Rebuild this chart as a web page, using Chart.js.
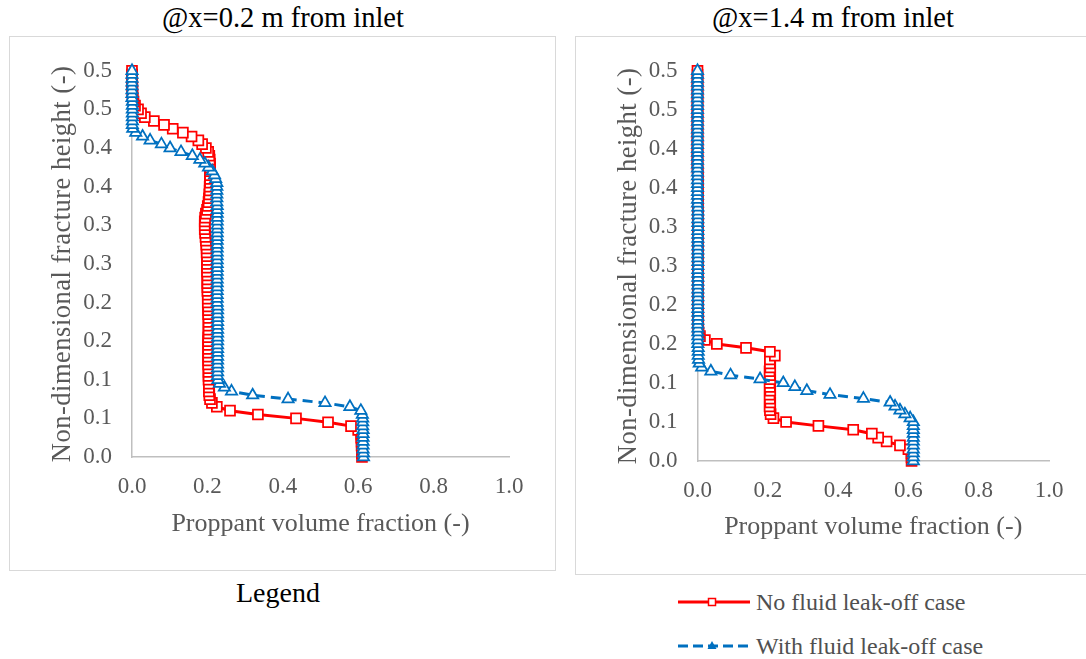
<!DOCTYPE html>
<html>
<head>
<meta charset="utf-8">
<script src="https://cdn.jsdelivr.net/npm/chart.js@4.4.1/dist/chart.umd.min.js"></script>
<style>
    body { margin: 0; width: 1086px; height: 659px; overflow: hidden; background: #fff; position: relative; font-family: 'Liberation Serif', 'Times New Roman', serif; }
    .title { position: absolute; top: 0px; height: 36px; line-height: 36px; font-size: 28.5px; color: #000; text-align: center; white-space: nowrap; }
    .box { position: absolute; border: 1.5px solid #d9d9d9; box-sizing: border-box; }
    canvas { position: absolute; }
    .legend-head { position: absolute; left: 178px; width: 200px; top: 575px; height: 36px; line-height: 36px; text-align: center; font-size: 28px; color: #000; }
    .legend-item { position: absolute; left: 676px; height: 30px; display: flex; align-items: center; }
    .legend-item span { font-size: 24px; color: #505050; margin-left: 4px; white-space: nowrap; }
</style>
</head>
<body>
<div class="title" style="left: 83px; width: 400px;">@x=0.2 m from inlet</div>
<div class="title" style="left: 633px; width: 400px;">@x=1.4 m from inlet</div>

<div class="box" style="left: 9px; top: 36px; width: 547px; height: 535px;"></div>
<div class="box" style="left: 575px; top: 36px; width: 520px; height: 539px;"></div>

<canvas id="chartLeft" width="545" height="533" style="left: 10px; top: 37px;"></canvas>
<canvas id="chartRight" width="514" height="536" style="left: 576px; top: 37px;"></canvas>

<div class="legend-head">Legend</div>
<div class="legend-item" style="top: 587px;">
    <svg width="76" height="30">
        <line x1="2" y1="15" x2="74" y2="15" stroke="#FF0000" stroke-width="3"/>
        <rect x="32.5" y="11.5" width="7" height="7" fill="#fff" stroke="#FF0000" stroke-width="1.5"/>
    </svg>
    <span id="legendRed"></span>
</div>
<div class="legend-item" style="top: 631px;">
    <svg width="76" height="30">
        <line x1="2" y1="15" x2="74" y2="15" stroke="#0070C0" stroke-width="3" stroke-dasharray="10 5"/>
        <polygon points="36,10 40.5,18 31.5,18" fill="#0070C0"/>
    </svg>
    <span id="legendBlue"></span>
</div>

<script>
// shared non-dimensional heights (y), one per CFD cell
const heights = [
    0.000, 0.005, 0.010, 0.015, 0.020, 0.025, 0.030, 0.035, 0.040, 0.045,
    0.050, 0.055, 0.060, 0.065, 0.070, 0.075, 0.080, 0.085, 0.090, 0.095,
    0.100, 0.105, 0.110, 0.115, 0.120, 0.125, 0.130, 0.135, 0.140, 0.145,
    0.150, 0.155, 0.160, 0.165, 0.170, 0.175, 0.180, 0.185, 0.190, 0.195,
    0.200, 0.205, 0.210, 0.215, 0.220, 0.225, 0.230, 0.235, 0.240, 0.245,
    0.250, 0.255, 0.260, 0.265, 0.270, 0.275, 0.280, 0.285, 0.290, 0.295,
    0.300, 0.305, 0.310, 0.315, 0.320, 0.325, 0.330, 0.335, 0.340, 0.345,
    0.350, 0.355, 0.360, 0.365, 0.370, 0.375, 0.380, 0.385, 0.390, 0.395,
    0.400, 0.405, 0.410, 0.415, 0.420, 0.425, 0.430, 0.435, 0.440, 0.445,
    0.450, 0.455, 0.460, 0.465, 0.470, 0.475, 0.480, 0.485, 0.490, 0.495,
    0.500
];

// proppant volume fraction @x=0.2 m
const noLeakOff02 = [
    0.610, 0.610, 0.610, 0.609, 0.609, 0.608, 0.608, 0.600, 0.581, 0.520,
    0.435, 0.334, 0.260, 0.225, 0.212, 0.207, 0.205, 0.204, 0.204, 0.204,
    0.203, 0.203, 0.203, 0.203, 0.202, 0.202, 0.202, 0.202, 0.202, 0.202,
    0.202, 0.202, 0.203, 0.203, 0.203, 0.203, 0.203, 0.202, 0.202, 0.202,
    0.201, 0.201, 0.201, 0.200, 0.200, 0.200, 0.200, 0.200, 0.199, 0.199,
    0.199, 0.199, 0.199, 0.198, 0.198, 0.197, 0.196, 0.195, 0.194, 0.193,
    0.193, 0.193, 0.194, 0.196, 0.199, 0.201, 0.203, 0.204, 0.205, 0.206,
    0.206, 0.207, 0.207, 0.207, 0.207, 0.207, 0.207, 0.206, 0.205, 0.202,
    0.196, 0.186, 0.176, 0.158, 0.135, 0.108, 0.085, 0.058, 0.034, 0.024,
    0.016, 0.008, 0.004, 0.002, 0.001, 0.001, 0.001, 0.000, 0.000, 0.000,
    0.000
];
const withLeakOff02 = [
    0.614, 0.614, 0.613, 0.613, 0.613, 0.613, 0.613, 0.613, 0.612, 0.612,
    0.612, 0.611, 0.607, 0.578, 0.512, 0.414, 0.320, 0.264, 0.245, 0.232,
    0.228, 0.227, 0.227, 0.227, 0.227, 0.227, 0.227, 0.227, 0.227, 0.227,
    0.227, 0.227, 0.227, 0.227, 0.227, 0.227, 0.227, 0.227, 0.227, 0.227,
    0.226, 0.226, 0.226, 0.226, 0.226, 0.226, 0.226, 0.226, 0.226, 0.226,
    0.226, 0.226, 0.226, 0.226, 0.226, 0.226, 0.226, 0.226, 0.226, 0.226,
    0.226, 0.226, 0.226, 0.226, 0.226, 0.226, 0.225, 0.225, 0.225, 0.225,
    0.225, 0.225, 0.222, 0.219, 0.213, 0.203, 0.193, 0.180, 0.160, 0.130,
    0.101, 0.078, 0.048, 0.028, 0.010, 0.002, 0.001, 0.001, 0.001, 0.001,
    0.001, 0.001, 0.001, 0.000, 0.000, 0.000, 0.000, 0.000, 0.000, 0.000,
    0.000
];

// proppant volume fraction @x=1.4 m
const noLeakOff14 = [
    0.609, 0.609, 0.609, 0.600, 0.576, 0.538, 0.514, 0.496, 0.443, 0.344,
    0.252, 0.216, 0.208, 0.206, 0.205, 0.207, 0.206, 0.205, 0.207, 0.206,
    0.205, 0.207, 0.206, 0.205, 0.207, 0.206, 0.206, 0.220, 0.206, 0.138,
    0.055, 0.021, 0.007, 0.003, 0.002, 0.002, 0.002, 0.002, 0.002, 0.001,
    0.001, 0.001, 0.001, 0.001, 0.001, 0.001, 0.001, 0.001, 0.001, 0.001,
    0.001, 0.001, 0.001, 0.001, 0.001, 0.001, 0.001, 0.001, 0.001, 0.001,
    0.001, 0.001, 0.001, 0.001, 0.001, 0.001, 0.001, 0.001, 0.001, 0.001,
    0.001, 0.001, 0.001, 0.001, 0.001, 0.000, 0.000, 0.000, 0.000, 0.000,
    0.000, 0.000, 0.000, 0.000, 0.000, 0.000, 0.000, 0.000, 0.000, 0.000,
    0.000, 0.000, 0.000, 0.000, 0.000, 0.000, 0.000, 0.000, 0.000, 0.000,
    0.000
];
const withLeakOff14 = [
    0.614, 0.614, 0.614, 0.614, 0.614, 0.614, 0.614, 0.614, 0.614, 0.614,
    0.614, 0.605, 0.590, 0.576, 0.562, 0.548, 0.472, 0.377, 0.311, 0.277,
    0.244, 0.178, 0.094, 0.038, 0.012, 0.005, 0.003, 0.002, 0.002, 0.002,
    0.001, 0.001, 0.001, 0.001, 0.001, 0.001, 0.001, 0.001, 0.001, 0.001,
    0.001, 0.001, 0.001, 0.001, 0.001, 0.001, 0.001, 0.001, 0.001, 0.001,
    0.001, 0.001, 0.001, 0.001, 0.001, 0.001, 0.001, 0.001, 0.001, 0.001,
    0.001, 0.001, 0.001, 0.001, 0.001, 0.001, 0.000, 0.000, 0.000, 0.000,
    0.000, 0.000, 0.000, 0.000, 0.000, 0.000, 0.000, 0.000, 0.000, 0.000,
    0.000, 0.000, 0.000, 0.000, 0.000, 0.000, 0.000, 0.000, 0.000, 0.000,
    0.000, 0.000, 0.000, 0.000, 0.000, 0.000, 0.000, 0.000, 0.000, 0.000,
    0.000
];

// Excel-style rounded tick labels (0.05 steps shown with one decimal)
const yTickLabels = ['0.0', '0.1', '0.1', '0.2', '0.2', '0.3', '0.3', '0.4', '0.4', '0.5', '0.5'];
const xTickLabels = ['0.0', '0.2', '0.4', '0.6', '0.8', '1.0'];

const seriesNames = ['No fluid leak-off case', 'With fluid leak-off case'];
document.getElementById('legendRed').textContent = seriesNames[0];
document.getElementById('legendBlue').textContent = seriesNames[1];

const toPoints = (xs) => xs.map((x, i) => ({ x: x, y: heights[i] }));

// the vertical axis title in the original is set a little wider
const spacedTitle = {
    id: 'spacedTitle',
    beforeDraw(chart) {
        const y = chart.scales.y;
        if (y._spaced) return;
        const orig = y.drawTitle;
        y.drawTitle = function () {
            const ctx = this.ctx;
            ctx.save();
            ctx.letterSpacing = '0.5px';
            orig.call(this);
            ctx.restore();
        };
        y._spaced = true;
    }
};

function makeChart(canvasId, redX, blueX, box) {
    const grey = '#595959';
    const axisLine = '#BFBFBF';
    return new Chart(document.getElementById(canvasId), {
        type: 'scatter',
        data: {
            datasets: [
                {
                    label: seriesNames[0],
                    data: toPoints(redX),
                    showLine: true,
                    order: 1,
                    borderColor: '#FF0000',
                    borderWidth: 3,
                    pointStyle: 'rect',
                    pointRadius: 7,
                    pointBorderWidth: 1.75,
                    pointBorderColor: '#FF0000',
                    pointBackgroundColor: '#FFFFFF',
                    clip: false
                },
                {
                    label: seriesNames[1],
                    data: toPoints(blueX),
                    showLine: true,
                    order: 0,
                    borderColor: '#0070C0',
                    borderWidth: 3,
                    borderDash: [10, 6],
                    pointStyle: 'triangle',
                    pointRadius: 6.5,
                    pointBorderWidth: 1.75,
                    pointBorderColor: '#0070C0',
                    pointBackgroundColor: '#FFFFFF',
                    clip: false
                }
            ]
        },
        options: {
            responsive: false,
            animation: false,
            layout: { padding: { top: 28, right: box.right, bottom: 0, left: 0 } },
            plugins: { legend: { display: false }, tooltip: { enabled: false } },
            scales: {
                x: {
                    type: 'linear',
                    min: 0,
                    max: 1,
                    afterBuildTicks: (scale) => { scale.ticks = xTickLabels.map((t, i) => ({ value: i * 0.2 })); },
                    afterFit: (scale) => { scale.height = box.xHeight; },
                    grid: { display: false, drawTicks: false },
                    border: { display: true, color: axisLine, width: 1.5 },
                    ticks: {
                        padding: 16,
                        color: grey,
                        font: { family: 'Liberation Serif', size: 23 },
                        callback: (v, i) => xTickLabels[i]
                    },
                    title: {
                        display: true,
                        text: 'Proppant volume fraction (-)',
                        color: grey,
                        font: { family: 'Liberation Serif', size: 26 },
                        padding: { top: 0, bottom: 30 }
                    }
                },
                y: {
                    type: 'linear',
                    min: 0,
                    max: 0.5,
                    afterBuildTicks: (scale) => { scale.ticks = yTickLabels.map((t, i) => ({ value: i * 0.05 })); },
                    afterFit: (scale) => { scale.width = box.yWidth; },
                    grid: { display: false, drawTicks: false },
                    border: { display: true, color: axisLine, width: 1.5 },
                    ticks: {
                        padding: 20,
                        color: grey,
                        font: { family: 'Liberation Serif', size: 23 },
                        callback: (v, i) => yTickLabels[i]
                    },
                    title: {
                        display: true,
                        text: 'Non-dimensional fracture height (-)',
                        color: grey,
                        font: { family: 'Liberation Serif', size: 26.5 },
                        padding: { top: 37, bottom: 0 }
                    }
                }
            }
        },
        plugins: [spacedTitle]
    });
}

makeChart('chartLeft', noLeakOff02, withLeakOff02, { right: 46, xHeight: 113, yWidth: 122 });
makeChart('chartRight', noLeakOff14, withLeakOff14, { right: 41, xHeight: 112, yWidth: 121.5 });
</script>
</body>
</html>
